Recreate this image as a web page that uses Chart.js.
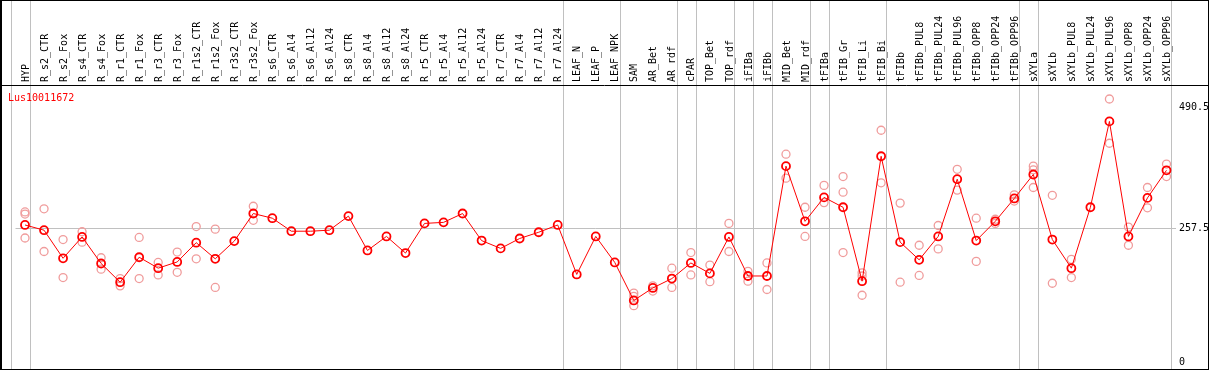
<!DOCTYPE html>
<html>
<head>
<meta charset="utf-8">
<script src="https://cdn.jsdelivr.net/npm/chart.js@4"></script>
<style>
  body { margin: 0; background: #fff; }
  #wrap { position: relative; width: 1209px; height: 370px; }
</style>
</head>
<body>
<div id="wrap"><canvas id="expr-chart"></canvas></div>
<script>
const geneName = "Lus10011672";

const labels = [
  "HYP", "R_s2_CTR", "R_s2_Fox", "R_s4_CTR", "R_s4_Fox", "R_r1_CTR", "R_r1_Fox",
  "R_r3_CTR", "R_r3_Fox", "R_r1s2_CTR", "R_r1s2_Fox", "R_r3s2_CTR", "R_r3s2_Fox",
  "R_s6_CTR", "R_s6_Al4", "R_s6_Al12", "R_s6_Al24", "R_s8_CTR", "R_s8_Al4",
  "R_s8_Al12", "R_s8_Al24", "R_r5_CTR", "R_r5_Al4", "R_r5_Al12", "R_r5_Al24",
  "R_r7_CTR", "R_r7_Al4", "R_r7_Al12", "R_r7_Al24", "LEAF_N", "LEAF_P", "LEAF_NPK",
  "SAM", "AR_Bet", "AR_rdf", "cPAR", "TOP_Bet", "TOP_rdf", "iFIBa", "iFIBb",
  "MID_Bet", "MID_rdf", "tFIBa", "tFIB_Gr", "tFIB_Li", "tFIB_Bi", "tFIBb",
  "tFIBb_PUL8", "tFIBb_PUL24", "tFIBb_PUL96", "tFIBb_OPP8", "tFIBb_OPP24",
  "tFIBb_OPP96", "sXYLa", "sXYLb", "sXYLb_PUL8", "sXYLb_PUL24", "sXYLb_PUL96",
  "sXYLb_OPP8", "sXYLb_OPP24", "sXYLb_OPP96",
];

// mean expression
const meanValues = [
  265, 255, 201, 242, 191, 155, 203, 182, 194, 231, 200, 234, 287,
  278, 253, 253, 255, 282, 216, 243, 211, 268, 270, 287, 235,
  220, 239, 251, 265, 170, 243, 193,
  120, 144, 162, 192, 172, 242, 167, 167,
  378, 272, 318, 299, 157, 397, 232,
  198, 243, 353, 235, 272, 316,
  362, 237, 182, 299, 464, 243, 317, 370,
];

// replicates
const repA = [
  290, 296, 237, 252, 202, 162, 241, 193, 213, 262, 257, null, 301,
  null, null, null, null, null, null, null, null, null, null, null, null,
  null, null, null, null, null, null, null,
  134, 148, 182, 212, 188, 268, 176, 192,
  401, 299, 341, 358, 173, 447, 307,
  226, 264, 372, 278, 276, 323,
  378, 322, 199, null, 507, 261, 337, 382,
];
const repB = [
  286, 214, 164, 232, 180, 148, 162, 169, 174, 200, 145, null, 274,
  null, null, null, null, null, null, null, null, null, null, null, null,
  null, null, null, null, null, null, null,
  110, 138, 145, 169, 156, 214, 157, 141,
  355, 243, 308, 328, 167, 346, 155,
  168, 219, 332, 195, 268, 311,
  371, 153, 164, null, 422, 226, 298, 358,
];
const repC = [
  240, null, null, null, null, null, null, null, null, null, null, null, null,
  null, null, null, null, null, null, null, null, null, null, null, null,
  null, null, null, null, null, null, null,
  128, null, null, null, null, null, null, null,
  null, null, null, 212, 130, null, null,
  null, null, null, null, null, null,
  337, null, null, null, null, null, null, null,
];

const groupEnds = [-1, 0, 28, 31, 34, 35, 37, 38, 39, 41, 42, 45, 52, 53, 60];
const yTicks = [0, 257.5, 490.5];

const mono = "'DejaVu Sans Mono', 'Liberation Mono', monospace";

const frame = {
  id: "frame",
  beforeDatasetsDraw(chart) {
    const ctx = chart.ctx;
    const x = chart.scales.x;
    ctx.save();
    ctx.strokeStyle = "#c0c0c0";
    ctx.lineWidth = 1;
    groupEnds.forEach((i) => {
      const px = Math.round(x.getPixelForValue(i) + 5) + 0.5;
      ctx.beginPath();
      ctx.moveTo(px, 0);
      ctx.lineTo(px, chart.height);
      ctx.stroke();
    });
    ctx.fillStyle = "#ff0000";
    ctx.font = "10px " + mono;
    ctx.textBaseline = "middle";
    ctx.fillText(geneName, 8, 98);
    ctx.restore();
  },
  afterDraw(chart) {
    const ctx = chart.ctx;
    ctx.save();
    ctx.strokeStyle = "#000";
    ctx.lineWidth = 1;
    ctx.strokeRect(0.5, 0.5, chart.width - 1, chart.height - 1);
    ctx.beginPath();
    ctx.moveTo(0, 85.5);
    ctx.lineTo(chart.width, 85.5);
    ctx.moveTo(1.5, 0);
    ctx.lineTo(1.5, chart.height);
    ctx.stroke();
    ctx.restore();
  },
};

const repStyle = {
  type: "line",
  showLine: false,
  pointRadius: 4,
  pointBorderWidth: 1.3,
  pointBorderColor: "#f09c9c",
  pointBackgroundColor: "rgba(0,0,0,0)",
  pointHoverRadius: 4,
  order: 2,
};

new Chart(document.getElementById("expr-chart"), {
  type: "line",
  data: {
    labels: labels,
    datasets: [
      {
        label: "mean",
        data: meanValues,
        borderColor: "#ff0000",
        borderWidth: 1,
        pointRadius: 4,
        pointBorderWidth: 1.8,
        pointBorderColor: "#ff0000",
        pointBackgroundColor: "rgba(0,0,0,0)",
        tension: 0,
        order: 1,
      },
      Object.assign({ label: "rep1", data: repA }, repStyle),
      Object.assign({ label: "rep2", data: repB }, repStyle),
      Object.assign({ label: "rep3", data: repC }, repStyle),
    ],
  },
  options: {
    responsive: true,
    maintainAspectRatio: false,
    animation: false,
    layout: { padding: { left: 15.5, right: 0, top: 0, bottom: 1 } },
    plugins: {
      legend: { display: false },
      tooltip: { enabled: false },
    },
    scales: {
      x: {
        position: "top",
        offset: true,
        grid: { display: false, drawTicks: false },
        border: { display: false },
        ticks: {
          autoSkip: false,
          minRotation: 90,
          maxRotation: 90,
          padding: 4,
          labelOffset: 13,
          color: "#000",
          font: { family: mono, size: 10 },
        },
        afterFit(scale) {
          scale.height = 86;
        },
      },
      y: {
        position: "right",
        min: -2.5,
        max: 532,
        border: { display: false },
        grid: {
          drawTicks: false,
          color: (c) => (c.tick && c.tick.value === 257.5 ? "#c0c0c0" : "rgba(0,0,0,0)"),
        },
        afterBuildTicks(scale) {
          scale.ticks = yTicks.map((v) => ({ value: v }));
        },
        ticks: {
          padding: 3,
          color: "#000",
          font: { family: mono, size: 10 },
          callback: (v) => String(v),
        },
        afterFit(scale) {
          scale.width = 33;
          scale.paddingTop = 0;
          scale.paddingBottom = 0;
        },
      },
    },
  },
  plugins: [frame],
});
</script>
</body>
</html>
